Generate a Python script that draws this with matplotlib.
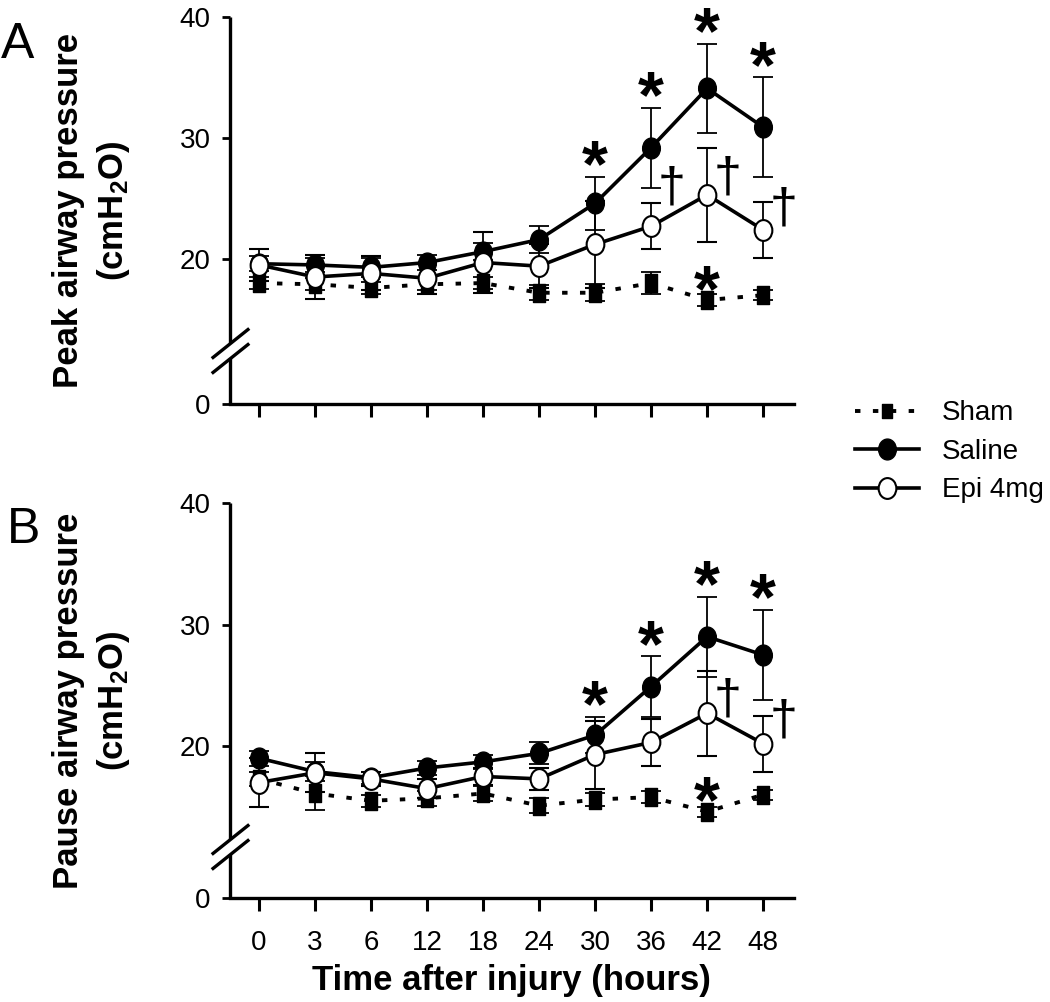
import numpy as np
import matplotlib
matplotlib.use("Agg")
import matplotlib.pyplot as plt
from matplotlib.path import Path
from matplotlib.lines import Line2D

plt.rcParams['font.family'] = ['Liberation Sans', 'DejaVu Sans']
plt.rcParams['mathtext.fontset'] = 'custom'
plt.rcParams['mathtext.rm'] = 'Liberation Sans'
plt.rcParams['mathtext.default'] = 'regular'

# ── Data (mean, SEM) ──────────────────────────────────────
hours = ['0', '3', '6', '12', '18', '24', '30', '36', '42', '48']

# A: peak airway pressure (cmH2O)
sham_peak = [18.0, 17.9, 17.6, 17.9, 18.0, 17.2, 17.2, 18.0, 16.6, 17.0]
sham_peak_se = [0.5, 0.5, 0.5, 0.5, 0.5, 0.6, 0.7, 0.9, 0.5, 0.4]
saline_peak = [19.6, 19.5, 19.3, 19.7, 20.6, 21.6, 24.6, 29.2, 34.1, 30.9]
saline_peak_se = [0.6, 0.6, 0.8, 0.6, 0.7, 1.1, 2.2, 3.3, 3.7, 4.1]
epi_peak = [19.5, 18.5, 18.8, 18.4, 19.7, 19.4, 21.2, 22.7, 25.3, 22.4]
epi_peak_se = [1.3, 1.8, 1.4, 1.3, 2.5, 1.8, 3.6, 1.9, 3.9, 2.3]

# B: pause airway pressure (cmH2O)
sham_pause = [17.3, 16.1, 15.5, 15.7, 16.1, 15.1, 15.6, 15.8, 14.6, 16.0]
sham_pause_se = [0.6, 1.4, 0.5, 0.6, 0.6, 0.6, 0.5, 0.5, 0.4, 0.4]
saline_pause = [19.0, 17.9, 17.4, 18.2, 18.7, 19.4, 20.9, 24.9, 29.0, 27.5]
saline_pause_se = [0.6, 0.8, 0.5, 0.6, 0.6, 0.9, 1.5, 2.5, 3.3, 3.7]
epi_pause = [17.0, 17.8, 17.3, 16.5, 17.5, 17.3, 19.3, 20.3, 22.7, 20.2]
epi_pause_se = [2.0, 1.6, 0.6, 0.8, 0.7, 0.9, 2.8, 1.9, 3.5, 2.3]

# significance marks: * saline vs sham, * sham, † epi vs saline
star_saline = [6, 7, 8, 9]
star_sham = [8]
dagger_peak = [7, 8, 9]
dagger_peak_y = [25.9, 26.7, 24.2]
dagger_pause = [8, 9]
dagger_pause_y = [23.8, 22.1]

# ── Style ─────────────────────────────────────────────────
SPINE_W = 2.4
LINE_W = 2.6
STAR_FS = 48
DAGGER_FS = 36

ellipse = Path(Path.unit_circle().vertices * [0.425, 0.5], Path.unit_circle().codes)
rect = Path([(-0.33, -0.5), (0.33, -0.5), (0.33, 0.5), (-0.33, 0.5), (-0.33, -0.5)],
            [Path.MOVETO, Path.LINETO, Path.LINETO, Path.LINETO, Path.CLOSEPOLY])
slash = Path([(-0.5, -0.4), (0.5, 0.4)], [Path.MOVETO, Path.LINETO])
sham_ls = (0, (1.4, 3.2))

fig = plt.figure(figsize=(10.5, 10.02), dpi=100)
ax_a = fig.add_axes([0.2190, 0.5968, 0.5371, 0.3862])
ax_b = fig.add_axes([0.2190, 0.1038, 0.5371, 0.3942])


def broken_left_spine(ax, y_break, gap_px):
    ax.spines['left'].set_visible(False)
    y0, y1 = ax.get_ylim()
    h_px = ax.get_position().height * fig.get_figheight() * fig.dpi
    half = gap_px / 2 * (y1 - y0) / h_px
    tr = ax.get_yaxis_transform()
    kw = dict(color='black', lw=SPINE_W, transform=tr, clip_on=False,
              solid_capstyle='butt')
    ax.plot([0, 0], [y0, y_break - half], **kw)
    ax.plot([0, 0], [y_break + half, y1], **kw)
    ax.plot([0, 0], [y_break - half, y_break + half], ls='none', marker=slash,
            ms=27, mew=2.4, mec='black', transform=tr, clip_on=False)


def panel(ax, sham, sham_se, saline, saline_se, epi, epi_se, ybot, y_break,
          daggers, dagger_y, show_xlabels):
    x = np.arange(len(hours))
    eb = dict(capsize=7.5, elinewidth=1.3, capthick=1.3, ecolor='black')
    ax.errorbar(x, sham, yerr=sham_se, color='black', ls=sham_ls, lw=2.8,
                dash_capstyle='butt', marker=rect, ms=13.5, mfc='black',
                mec='black', zorder=2, **eb)
    ax.errorbar(x, saline, yerr=saline_se, color='black', lw=LINE_W,
                marker=ellipse, ms=15, mfc='black', mec='black', zorder=3, **eb)
    ax.errorbar(x, epi, yerr=epi_se, color='black', lw=LINE_W,
                marker=ellipse, ms=15, mfc='white', mec='black', mew=1.5,
                zorder=4, **eb)

    star_kw = dict(xytext=(0, -0.58 * STAR_FS), textcoords='offset points',
                   ha='center', va='baseline', fontsize=STAR_FS,
                   fontweight='bold', annotation_clip=False)
    for i in star_saline:
        ax.annotate('*', xy=(i, saline[i] + saline_se[i] + 2.4), **star_kw)
    for i in star_sham:
        ax.annotate('*', xy=(i, sham[i] + 2.3), **star_kw)
    for i, yd in zip(daggers, dagger_y):
        ax.annotate('\u2020', xy=(i + 0.37, yd), xytext=(0, -0.28 * DAGGER_FS),
                    textcoords='offset points', ha='center', va='baseline',
                    fontsize=DAGGER_FS, annotation_clip=False)

    ax.set_xlim(-0.52, 9.55)
    ax.set_ylim(ybot, 40)
    ax.set_yticks([ybot, 20, 30, 40])
    ax.set_yticklabels(['0', '20', '30', '40'])
    ax.set_xticks(x)
    ax.set_xticklabels(hours if show_xlabels else [])
    for s in ['top', 'right']:
        ax.spines[s].set_visible(False)
    ax.spines['bottom'].set_linewidth(SPINE_W)
    ax.tick_params(axis='y', direction='out', length=6, width=2.0, labelsize=20, pad=8)
    ax.tick_params(axis='x', direction='out', length=9, width=2.2, labelsize=20, pad=14)
    broken_left_spine(ax, y_break, 15)


panel(ax_a, sham_peak, sham_peak_se, saline_peak, saline_peak_se, epi_peak, epi_peak_se,
      8.0, 12.4, dagger_peak, dagger_peak_y, False)
panel(ax_b, sham_pause, sham_pause_se, saline_pause, saline_pause_se, epi_pause, epi_pause_se,
      7.5, 11.7, dagger_pause, dagger_pause_y, True)

ax_a.set_ylabel('Peak airway pressure\n(cmH$_2$O)', fontsize=25, fontweight='bold',
                linespacing=1.35)
ax_b.set_ylabel('Pause airway pressure\n(cmH$_2$O)', fontsize=25, fontweight='bold',
                linespacing=1.35)
ax_a.yaxis.set_label_coords(-0.174, 0.5)
ax_b.yaxis.set_label_coords(-0.174, 0.5)
ax_b.set_xlabel('Time after injury (hours)', fontsize=25, fontweight='bold', labelpad=6)

fig.text(0.017, 0.955, 'A', fontsize=36, ha='center', va='center')
fig.text(0.022, 0.471, 'B', fontsize=36, ha='center', va='center')

handles = [
    Line2D([], [], color='black', ls=sham_ls, lw=2.8, dash_capstyle='butt',
           marker=rect, ms=10, mfc='black', mec='black'),
    Line2D([], [], color='black', lw=LINE_W, marker=ellipse, ms=15,
           mfc='black', mec='black'),
    Line2D([], [], color='black', lw=LINE_W, marker=ellipse, ms=15,
           mfc='white', mec='black', mew=1.5),
]
fig.legend(handles, ['Sham', 'Saline', 'Epi 4mg'], loc='center left',
           bbox_to_anchor=(0.814, 0.549), frameon=False, fontsize=20,
           handlelength=2.3, handletextpad=0.85, labelspacing=0.45,
           borderpad=0, borderaxespad=0)

fig.savefig('out.png', dpi=100)
